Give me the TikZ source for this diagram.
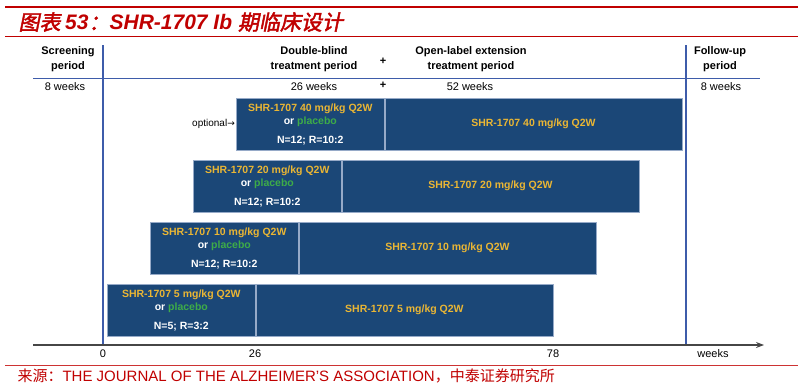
\documentclass[tikz,border=0pt]{standalone}
\usepackage{fontspec}
\setmainfont{Liberation Sans}
\newfontfamily\cjk{Noto Sans CJK SC}
\newfontfamily\cjktitle[FakeSlant=0.2,FakeBold=2]{Noto Sans CJK SC}
\newfontfamily\arrowfont{DejaVu Sans}
\usepackage{tikz}
\usetikzlibrary{positioning,arrows.meta}
\definecolor{hred}{RGB}{192,0,0}
\definecolor{barblue}{RGB}{27,71,119}
\definecolor{baredge}{RGB}{150,170,200}
\definecolor{dosegold}{RGB}{234,182,52}
\definecolor{pgreen}{RGB}{62,172,72}
\definecolor{lblue}{RGB}{62,92,170}
\definecolor{axgray}{RGB}{70,70,70}

\begin{document}
\begin{tikzpicture}[x=1pt, y=-1pt, font=\fontsize{11}{13}\selectfont,
  hdr/.style={font=\fontsize{11}{15}\selectfont\bfseries, align=center},
  wk/.style={font=\fontsize{11}{13}\selectfont},
  blindbox/.style={draw=baredge, fill=barblue, line width=0.6pt, anchor=north west,
    minimum width=148pt, minimum height=52pt, inner sep=0pt, align=center,
    text=white, font=\fontsize{10.5}{13}\selectfont\bfseries},
  openbox/.style={blindbox, minimum width=297pt, text=dosegold}]
  \useasboundingbox (0,0) rectangle (803,388);

  % Title between the red rules
  \draw[hred, line width=2.5pt] (5,7) -- (798,7);
  \node[anchor=west, text=hred, font=\fontsize{21}{23}\selectfont] (title) at (15,22)
    {{\cjktitle 图表 }{\bfseries\itshape 53}{\cjktitle ：}{\bfseries\itshape SHR-1707 Ib }{\cjktitle 期临床设计}};
  \draw[hred, line width=1pt] (5,36) -- (798,36);

  % Period headers
  \node[hdr] (hscreen) at (68,59) {Screening\\period};
  \node[hdr] (hblind) at (314,59) {Double-blind\\treatment period};
  \node[hdr] (hplus) at (383,61) {+};
  \node[hdr] (hopen) at (471,59) {Open-label extension\\treatment period};
  \node[hdr] (hfollow) at (720,59) {Follow-up\\period};

  % Durations
  \node[wk] (wscreen) at (65,87) {8 weeks};
  \node[wk] (wblind) at (314,87) {26 weeks};
  \node[wk, font=\fontsize{11}{13}\selectfont\bfseries] (wplus) at (383,85) {+};
  \node[wk] (wopen) at (470,87) {52 weeks};
  \node[wk] (wfollow) at (721,87) {8 weeks};

  % Frame lines
  \coordinate (vl0) at (103,45);
  \coordinate (vl1) at (103,345);
  \coordinate (vr0) at (686,45);
  \coordinate (vr1) at (686,345);
  \coordinate (hl0) at (33,78);
  \coordinate (hl1) at (760,78);
  \draw[lblue, line width=1pt] (hl0) -- (hl1);
  \draw[lblue, line width=1.2pt] (vl0) -- (vl1);
  \draw[lblue, line width=1.2pt] (vr0) -- (vr1);

  % Dose arms: blind part + open-label part
  \foreach \dose/\npat/\ratio [count=\i] in {40/12/10:2, 20/12/10:2, 10/12/10:2, 5/5/3:2} {
    \node[blindbox] (blind\i) at ({236-43*(\i-1)},{98+62*(\i-1)})
      {{\color{dosegold}SHR-1707 \dose\ mg/kg Q2W}\\or {\color{pgreen}placebo}\\[6pt]N=\npat; R=\ratio};
    \node[openbox] (open\i) at (blind\i.north east) {SHR-1707 \dose\ mg/kg Q2W};
  }
  \node[left=1pt of blind1, font=\fontsize{10}{12}\selectfont, inner sep=0pt] (opt)
    {optional{\arrowfont\fontsize{9}{12}\selectfont →}};

  % Time axis
  \coordinate (ax0) at (33,345);
  \coordinate (ax1) at (764,345);
  \draw[axgray, line width=1.2pt, -{Stealth[length=8pt,width=6pt]}] (ax0) -- (ax1);
  \node[wk] (t0) at (103,354) {0};
  \node[wk] (t26) at (255,354) {26};
  \node[wk] (t78) at (553,354) {78};
  \node[wk] (tweeks) at (713,354) {weeks};

  % Source
  \draw[hred!80, line width=1pt] (5,365) -- (798,365);
  \node[anchor=west, text=hred, font=\fontsize{15}{17}\selectfont] (src) at (14,376)
    {{\cjk 来源：}THE JOURNAL OF THE ALZHEIMER'S ASSOCIATION{\cjk ，中泰证券研究所}};
\end{tikzpicture}
\end{document}
